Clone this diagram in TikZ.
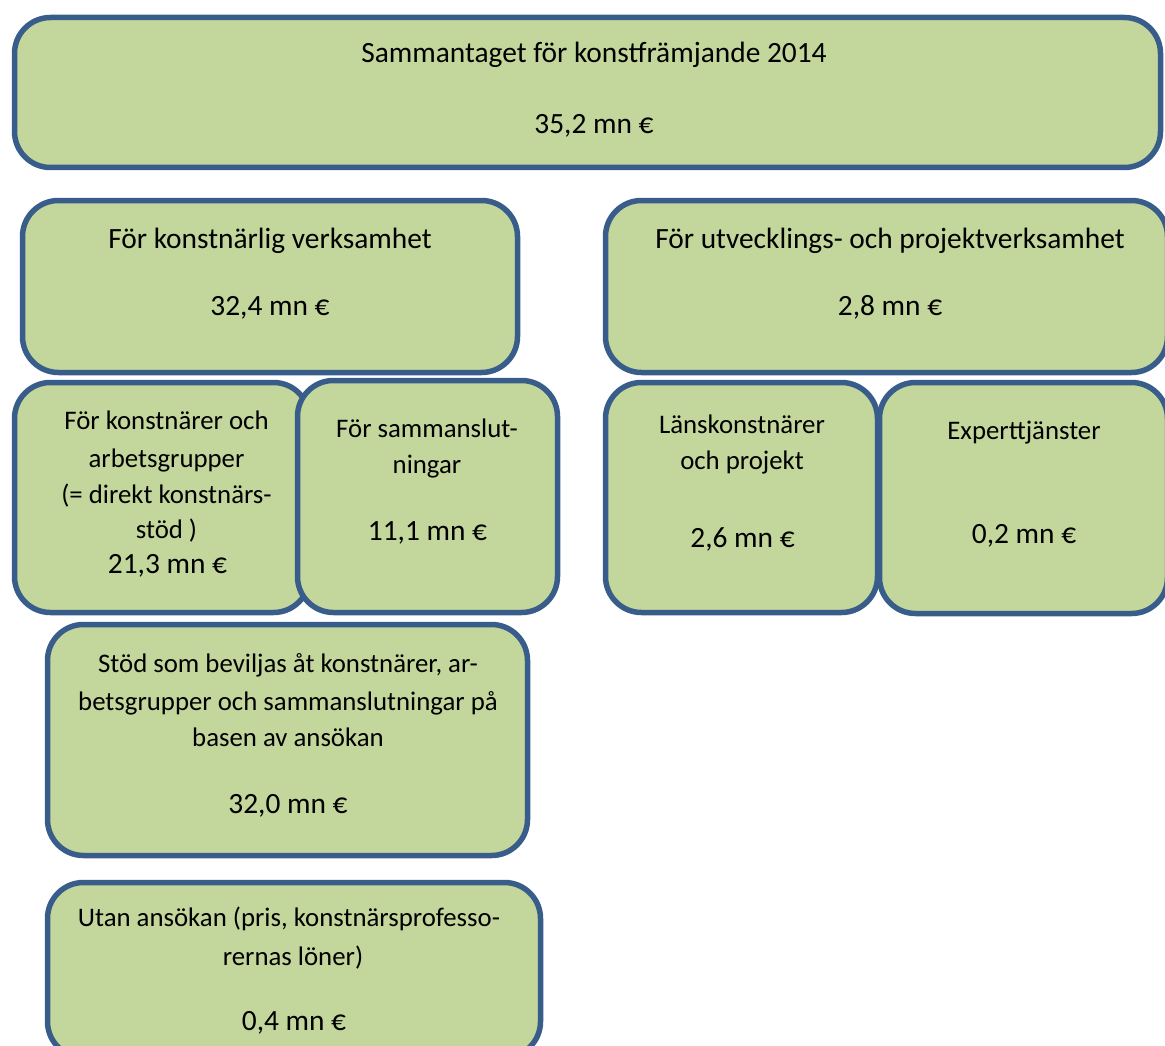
\documentclass[tikz,border=0pt]{standalone}
\usepackage{fontspec}
\setmainfont{Carlito}
\definecolor{boxblue}{RGB}{56,93,138}
\definecolor{boxgreen}{RGB}{195,214,155}
\begin{document}
\begin{tikzpicture}[x=1pt,y=-1pt,
  box/.style={draw=boxblue,fill=boxgreen,line width=5.5pt,rounded corners=36pt,inner sep=0pt,outer sep=0pt},
  txt/.style={font=\fontsize{29.4}{38}\selectfont,anchor=base,inner sep=0pt},
  txtm/.style={font=\fontsize{26.8}{36}\selectfont,anchor=base,inner sep=0pt}]
\useasboundingbox (0,0) rectangle (1165,1046);
% boxes
\node[box,minimum width=1146pt,minimum height=150pt] (b1) at (587.5,92.5) {};
\node[box,minimum width=495pt,minimum height=172pt] (b2) at (270,286.5) {};
\node[box,minimum width=562pt,minimum height=172pt] (b3) at (886.5,286.5) {};
\node[box,minimum width=295pt,minimum height=230pt] (b4) at (162,497.5) {};
\node[box,minimum width=260pt,minimum height=232pt] (b5) at (427.5,496.5) {};
\node[box,minimum width=272pt,minimum height=230pt] (b8) at (741.5,497.5) {};
\node[box,minimum width=288pt,minimum height=231pt] (b9) at (1023.5,498) {};
\node[box,minimum width=480pt,minimum height=231pt] (b6) at (287.5,740) {};
\node[box,minimum width=493pt,minimum height=175pt] (b7) at (294,970) {};
% texts
\node[txt] (t1a) at (594,63) {Sammantaget för konstfrämjande 2014};
\node[txt] (t1b) at (594,134) {35,2 mn €};
\node[txt] (t2a) at (270,248) {För konstnärlig verksamhet};
\node[txt] (t2b) at (270,315) {32,4 mn €};
\node[txt] (t3a) at (890,248) {För utvecklings- och projektverksamhet};
\node[txt] (t3b) at (890,315) {2,8 mn €};
\node[txtm] (t4a) at (166.5,429) {För konstnärer och};
\node[txtm] (t4b) at (166.5,467) {arbetsgrupper};
\node[txtm] (t4c) at (166.5,503) {(= direkt konstnärs-};
\node[txtm] (t4d) at (166.5,538) {stöd )};
\node[txt] (t4e) at (167.5,573) {21,3 mn €};
\node[txtm] (t5a) at (427,437) {För sammanslut-};
\node[txtm] (t5b) at (427,473) {ningar};
\node[txt] (t5c) at (427.5,540) {11,1 mn €};
\node[txtm] (t8a) at (742,433) {Länskonstnärer};
\node[txtm] (t8b) at (742,469) {och projekt};
\node[txt] (t8c) at (742.5,547) {2,6 mn €};
\node[txtm] (t9a) at (1024,439) {Experttjänster};
\node[txt] (t9b) at (1024,543) {0,2 mn €};
\node[txtm] (t6a) at (288,672) {Stöd som beviljas åt konstnärer, ar-};
\node[txtm] (t6b) at (288,710) {betsgrupper och sammanslutningar på};
\node[txtm] (t6c) at (288,746) {basen av ansökan};
\node[txt] (t6d) at (288,813) {32,0 mn €};
\node[txtm] (t7a) at (289,926) {Utan ansökan (pris, konstnärsprofesso-};
\node[txtm] (t7b) at (293,965) {rernas löner)};
\node[txt] (t7c) at (294,1030) {0,4 mn €};
\end{tikzpicture}
\end{document}
